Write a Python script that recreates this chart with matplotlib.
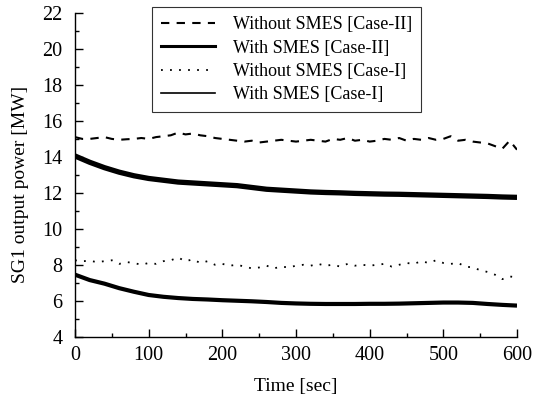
import numpy as np
import matplotlib
matplotlib.use("Agg")
import matplotlib.pyplot as plt
from matplotlib.lines import Line2D
from matplotlib.ticker import MultipleLocator

plt.rcParams["font.family"] = ["Liberation Serif", "DejaVu Serif"]

# Time bases [sec]
t_fine = np.arange(0, 601, 10)
t_coarse = np.arange(0, 601, 20)

# SG1 output power [MW]
without_case2 = [15.1, 15.0, 15.0, 15.05, 15.1, 15.0, 14.95, 14.98, 15.0, 15.05,
                 15.0, 15.1, 15.15, 15.2, 15.35, 15.25, 15.3, 15.2, 15.15, 15.05,
                 15.0, 14.95, 14.9, 14.85, 14.9, 14.8, 14.85, 14.9, 14.95, 14.9,
                 14.85, 14.9, 14.95, 14.9, 14.85, 15.0, 14.95, 15.05, 14.9, 14.95,
                 14.85, 14.9, 15.0, 14.95, 15.05, 14.9, 15.0, 14.95, 15.05, 14.95,
                 15.0, 15.15, 14.9, 14.95, 14.85, 14.8, 14.75, 14.6, 14.45, 14.9,
                 14.4]

with_case2 = [14.05, 13.7, 13.4, 13.15, 12.95, 12.8, 12.7, 12.6, 12.55, 12.5,
              12.45, 12.4, 12.3, 12.2, 12.15, 12.1, 12.05, 12.02, 12.0, 11.97,
              11.95, 11.93, 11.92, 11.9, 11.88, 11.86, 11.84, 11.82, 11.8, 11.77,
              11.75]

without_case1 = [8.25, 8.2, 8.22, 8.15, 8.2, 8.25, 8.05, 8.15, 8.1, 8.0,
                 8.1, 8.05, 8.2, 8.25, 8.4, 8.2, 8.3, 8.1, 8.2, 8.0,
                 8.05, 7.95, 8.0, 7.9, 7.8, 7.85, 7.95, 7.8, 7.9, 7.85,
                 7.95, 8.0, 7.95, 8.05, 7.95, 8.0, 7.9, 8.05, 7.95, 8.0,
                 7.95, 8.0, 8.05, 7.9, 8.0, 8.1, 8.05, 8.2, 8.1, 8.25,
                 8.1, 8.05, 8.1, 7.9, 7.85, 7.7, 7.6, 7.45, 7.2, 7.35,
                 7.3]

with_case1 = [7.45, 7.15, 6.95, 6.7, 6.5, 6.32, 6.22, 6.15, 6.1, 6.07,
              6.03, 6.0, 5.97, 5.93, 5.88, 5.85, 5.83, 5.82, 5.82, 5.82,
              5.83, 5.83, 5.84, 5.86, 5.88, 5.9, 5.9, 5.88, 5.82, 5.77,
              5.73]

labels = ["Without SMES [Case-II]", "With SMES [Case-II]",
          "Without SMES [Case-I]", "With SMES [Case-I]"]

fig = plt.figure(figsize=(5.38, 4.07), dpi=100)
ax = fig.add_axes([0.1394, 0.1727, 0.8216, 0.7953])

dash_style = (0, (4, 3.5))
dot_style = (0, (1, 4))

ax.plot(t_fine, without_case2, color="black", lw=1.5, linestyle=dash_style)
ax.plot(t_coarse, with_case2, color="black", lw=3.8, solid_capstyle="butt")
ax.plot(t_fine, without_case1, color="black", lw=1.3, linestyle=dot_style)
ax.plot(t_coarse, with_case1, color="black", lw=3.0, solid_capstyle="butt")

ax.set_xlim(0, 600)
ax.set_ylim(4, 22)
ax.xaxis.set_major_locator(MultipleLocator(100))
ax.xaxis.set_minor_locator(MultipleLocator(50))
ax.yaxis.set_major_locator(MultipleLocator(2))
ax.yaxis.set_minor_locator(MultipleLocator(1))
ax.tick_params(which="both", direction="in", width=1.0, labelsize=14.5,
               top=False, right=False)
ax.tick_params(which="major", length=6)
ax.tick_params(axis="y", which="major", pad=9)
ax.tick_params(axis="x", which="major", pad=7)
ax.tick_params(which="minor", length=3)
for side in ("top", "right"):
    ax.spines[side].set_visible(False)
for side in ("left", "bottom"):
    ax.spines[side].set_linewidth(1.0)

ax.set_xlabel("Time [sec]", fontsize=14, labelpad=9)
ax.set_ylabel("SG1 output power [MW]", fontsize=14)
ax.yaxis.set_label_coords(-0.104, 0.47)

handles = [
    Line2D([], [], color="black", lw=1.5, linestyle=dash_style),
    Line2D([], [], color="black", lw=2.2),
    Line2D([], [], color="black", lw=1.3, linestyle=dot_style),
    Line2D([], [], color="black", lw=1.2),
]
leg = ax.legend(handles, labels, loc="upper left",
                bbox_to_anchor=(0.174, 1.018), fontsize=13,
                frameon=True, fancybox=False, edgecolor="black",
                handlelength=3.0, handletextpad=1.0, borderpad=0.5,
                labelspacing=0.35, borderaxespad=0)
leg.get_frame().set_linewidth(0.8)

fig.savefig("out.png", dpi=100)
